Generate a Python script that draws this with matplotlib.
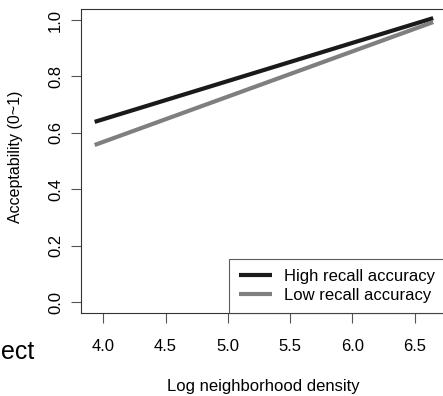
import numpy as np
import matplotlib.pyplot as plt

plt.rcParams['font.family'] = ['Liberation Sans', 'DejaVu Sans']

# fitted lines (log neighborhood density vs acceptability)
density = [3.93, 6.65]
high_recall = [0.639, 1.007]
low_recall = [0.557, 0.993]
xticks = [4.0, 4.5, 5.0, 5.5, 6.0, 6.5]
yticks = [0.0, 0.2, 0.4, 0.6, 0.8, 1.0]

fig = plt.figure(figsize=(4.43, 3.96), dpi=100)
ax = fig.add_axes([0.1828, 0.2096, 0.826, 0.7674])

ax.plot(density, high_recall, color='#1a1a1a', lw=3, solid_capstyle='butt', label='High recall accuracy')
ax.plot(density, low_recall, color='#7f7f7f', lw=3, solid_capstyle='butt', label='Low recall accuracy')

ax.set_xlim(3.82, 6.76)
ax.set_ylim(-0.039, 1.039)
ax.set_xticks(xticks)
ax.set_xticklabels(['%.1f' % v for v in xticks])
ax.set_yticks(yticks)
ax.set_yticklabels(['%.1f' % v for v in yticks], rotation=90, va='center')
ax.tick_params(direction='out', length=7.5, width=0.8, color='#555555', labelsize=12)
ax.tick_params(axis='x', pad=11)
ax.tick_params(axis='y', pad=5.5)

for s in ax.spines.values():
    s.set_color('#333333')
    s.set_linewidth(0.8)

ax.set_xlabel('Log neighborhood density', fontsize=12)
ax.set_ylabel('Acceptability (0~1)', fontsize=11.5)
ax.xaxis.set_label_coords(263 / 443, 1 - 387 / 396, transform=fig.transFigure)
ax.yaxis.set_label_coords(15.5 / 443, 1 - 157 / 396, transform=fig.transFigure)
ax.xaxis.label.set_va('center')
ax.yaxis.label.set_va('center')

leg = ax.legend(loc='lower left', bbox_to_anchor=(229 / 443, 83 / 396), bbox_transform=fig.transFigure,
                fontsize=12, frameon=True, fancybox=False, handlelength=2.0, borderpad=0.6,
                labelspacing=0.25, borderaxespad=0.0, handletextpad=0.7)
leg.get_frame().set_edgecolor('#333333')
leg.get_frame().set_linewidth(0.8)

# leftover fragment of a cropped title in the source image
fig.text(0.5 / 443, 1 - 352 / 396, 'ect', fontsize=18, ha='left', va='center')

fig.savefig('out.png', dpi=100)
